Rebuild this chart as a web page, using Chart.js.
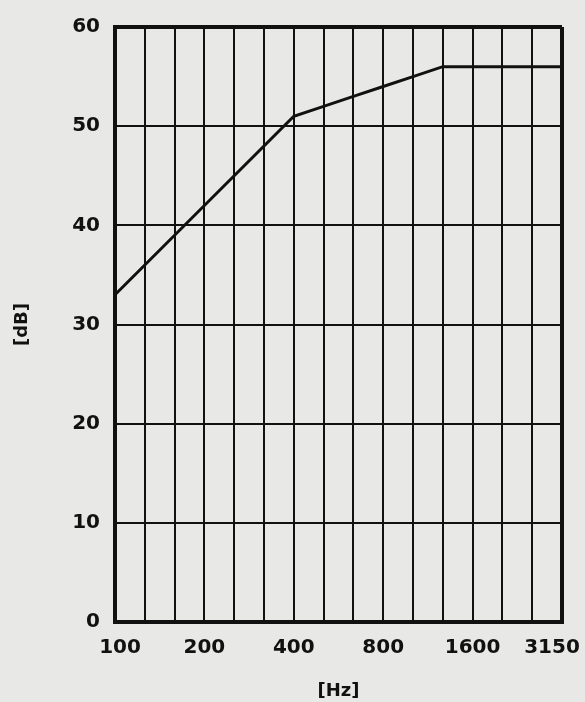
<!DOCTYPE html>
<html>
<head>
<meta charset="utf-8">
<title>dB curve</title>
<script src="https://cdn.jsdelivr.net/npm/chart.js"></script>
<style>
  body { margin: 0; background: #e8e8e6; }
  canvas { display: block; }
</style>
</head>
<body>
<canvas id="chart" width="585" height="702"></canvas>
<script>
// third-octave bands
const bands = ["100", "125", "160", "200", "250", "315", "400", "500", "630", "800", "1000", "1250", "1600", "2000", "2500", "3150"];
const shownBands = ["100", "200", "400", "800", "1600", "3150"];
const levels = [33, 36, 39, 42, 45, 48, 51, 52, 53, 54, 55, 56, 56, 56, 56, 56];

const INK = "#111";
const tickFont = { family: "'DejaVu Sans', sans-serif", size: 20, weight: "bold" };
const EN = "\u2002";

new Chart(document.getElementById("chart"), {
  type: "line",
  data: {
    labels: bands,
    datasets: [{
      data: levels,
      borderColor: INK,
      borderWidth: 3,
      pointRadius: 0,
      fill: false,
      tension: 0,
    }],
  },
  options: {
    responsive: false,
    animation: false,
    layout: { padding: { top: 22, right: 23, left: 0, bottom: 0 } },
    plugins: { legend: { display: false }, tooltip: { enabled: false } },
    scales: {
      x: {
        type: "category",
        offset: false,
        afterFit: (s) => {
          s.height = 80;
          s.paddingLeft = 0;
          s.paddingRight = 0;
        },
        grid: {
          color: INK,
          lineWidth: (c) => (c.index === 0 || c.index === bands.length - 1 ? 4 : 2),
          drawTicks: false,
        },
        border: { color: INK, width: 4 },
        ticks: {
          autoSkip: false,
          maxRotation: 0,
          padding: 14,
          color: INK,
          font: tickFont,
          callback: function (v, i) {
            const l = this.getLabelForValue(v);
            if (!shownBands.includes(l)) return "";
            // nudge the end labels inward like the original print
            if (i === 0) return EN + l;
            if (i === bands.length - 1) return l + EN + EN;
            return l;
          },
        },
        title: {
          display: true,
          text: "[Hz]",
          color: INK,
          font: { family: "'DejaVu Sans', sans-serif", size: 18, weight: "bold" },
          padding: { top: 0, bottom: 0 },
        },
      },
      y: {
        min: 0,
        max: 60,
        afterFit: (s) => { s.width = 115; },
        grid: {
          color: INK,
          lineWidth: (c) => (c.index === 0 || c.index === 6 ? 4 : 2),
          drawTicks: false,
        },
        border: { color: INK, width: 4 },
        ticks: {
          stepSize: 10,
          padding: 15,
          color: INK,
          font: tickFont,
        },
        title: {
          display: true,
          text: "[dB]",
          color: INK,
          font: { family: "'DejaVu Sans', sans-serif", size: 18, weight: "bold" },
          padding: { top: 12, bottom: 0 },
        },
      },
    },
  },
});
</script>
</body>
</html>
